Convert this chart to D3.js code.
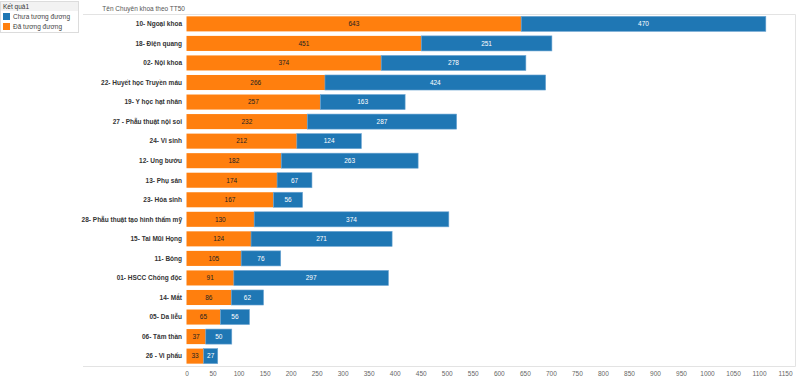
<!DOCTYPE html>
<html>
<head>
<meta charset="utf-8">
<script src="https://cdn.jsdelivr.net/npm/d3@7"></script>
<style>
  body { margin: 0; background: #fff; font-family: "Liberation Sans", Arial, sans-serif; }
</style>
</head>
<body>
<script>
// Chuyên khoa
var categories = [
  '10- Ngoại khoa', '18- Điện quang', '02- Nội khoa', '22- Huyết học Truyền máu',
  '19- Y học hạt nhân', '27 - Phẫu thuật nội soi', '24- Vi sinh', '12- Ung bướu',
  '13- Phụ sản', '23- Hóa sinh', '28- Phẫu thuật tạo hình thẩm mỹ', '15- Tai Mũi Họng',
  '11- Bỏng', '01- HSCC Chống độc', '14- Mắt', '05- Da liễu', '06- Tâm thần', '26 - Vi phẩu'
];
var daTuongDuong = [643, 451, 374, 266, 257, 232, 212, 182, 174, 167, 130, 124, 105, 91, 86, 65, 37, 33];
var chuaTuongDuong = [470, 251, 278, 424, 163, 287, 124, 263, 67, 56, 374, 271, 76, 297, 62, 56, 50, 27];
var xTicks = d3.range(0, 1151, 50);
var legendTitle = 'Kết quả1';
var legendNames = ['Chưa tương đương', 'Đã tương đương'];
var axisTitle = 'Tên Chuyên khoa theo TT50';

var W = 800, H = 390;
var orange = '#ff7f0e', blue = '#1f77b4';

var svg = d3.select('body').append('svg')
  .attr('width', W)
  .attr('height', H)
  .style('font-family', '"Liberation Sans", Arial, sans-serif');

var x = d3.scaleLinear().domain([0, 1170]).range([186.5, 795.5]);
var y = d3.scaleBand().domain(categories).range([14, 366]).paddingInner(0.23).paddingOuter(0.12);

// khung
svg.append('line').attr('x1', 83).attr('x2', 795.5).attr('y1', 14.5).attr('y2', 14.5)
  .attr('stroke', '#e3e3e3');
svg.append('line').attr('x1', 795.5).attr('x2', 795.5).attr('y1', 14.5).attr('y2', 366.5)
  .attr('stroke', '#e3e3e3');
svg.append('line').attr('x1', 83).attr('x2', 795.5).attr('y1', 366.5).attr('y2', 366.5)
  .attr('stroke', '#e3e3e3');

svg.append('text')
  .attr('x', 185).attr('y', 10.5)
  .attr('text-anchor', 'end')
  .attr('font-size', 6.5)
  .attr('fill', '#555')
  .text(axisTitle);

var rows = categories.map(function(c, i) {
  return { name: c, da: daTuongDuong[i], chua: chuaTuongDuong[i] };
});

var g = svg.selectAll('.row').data(rows).enter().append('g').attr('class', 'row');

g.append('rect')
  .attr('x', function(d) { return x(0); })
  .attr('y', function(d) { return y(d.name); })
  .attr('width', function(d) { return x(d.da) - x(0); })
  .attr('height', y.bandwidth())
  .attr('fill', orange);

g.append('rect')
  .attr('x', function(d) { return x(d.da); })
  .attr('y', function(d) { return y(d.name); })
  .attr('width', function(d) { return x(d.da + d.chua) - x(d.da); })
  .attr('height', y.bandwidth())
  .attr('fill', blue)
  .attr('stroke', '#6ea6d3')
  .attr('stroke-width', 0.6);

g.append('text')
  .attr('x', function(d) { return (x(0) + x(d.da)) / 2; })
  .attr('y', function(d) { return y(d.name) + y.bandwidth() / 2; })
  .attr('dy', '0.35em')
  .attr('text-anchor', 'middle')
  .attr('font-size', 6.5)
  .attr('fill', '#222')
  .text(function(d) { return d.da; });

g.append('text')
  .attr('x', function(d) { return (x(d.da) + x(d.da + d.chua)) / 2; })
  .attr('y', function(d) { return y(d.name) + y.bandwidth() / 2; })
  .attr('dy', '0.35em')
  .attr('text-anchor', 'middle')
  .attr('font-size', 6.5)
  .attr('fill', '#fff')
  .text(function(d) { return d.chua; });

g.append('text')
  .attr('x', 182)
  .attr('y', function(d) { return y(d.name) + y.bandwidth() / 2; })
  .attr('dy', '0.35em')
  .attr('text-anchor', 'end')
  .attr('font-size', 6.5)
  .attr('font-weight', 'bold')
  .attr('fill', '#333')
  .text(function(d) { return d.name; });

// truc x
var xAxis = d3.axisBottom(x).tickValues(xTicks).tickFormat(d3.format('d')).tickSize(0).tickPadding(5);
var ax = svg.append('g').attr('transform', 'translate(0,366)').call(xAxis);
ax.select('.domain').remove();
ax.selectAll('text').attr('font-size', 6.5).attr('fill', '#666')
  .style('font-family', '"Liberation Sans", Arial, sans-serif');

// chu thich
var lg = svg.append('g');
lg.append('rect').attr('x', 0.5).attr('y', 1.5).attr('width', 78).attr('height', 31)
  .attr('fill', '#fff').attr('stroke', '#dcdcdc');
lg.append('rect').attr('x', 1).attr('y', 2).attr('width', 77).attr('height', 9)
  .attr('fill', '#f2f2f2');
lg.append('text').attr('x', 3).attr('y', 9).attr('font-size', 6.5).attr('fill', '#333')
  .text(legendTitle);
var swatch = [blue, orange];
legendNames.forEach(function(n, i) {
  lg.append('rect').attr('x', 3).attr('y', 13 + i * 10).attr('width', 7).attr('height', 7)
    .attr('fill', swatch[i]);
  lg.append('text').attr('x', 13).attr('y', 19 + i * 10).attr('font-size', 6.5).attr('fill', '#444')
    .text(n);
});
</script>
</body>
</html>
